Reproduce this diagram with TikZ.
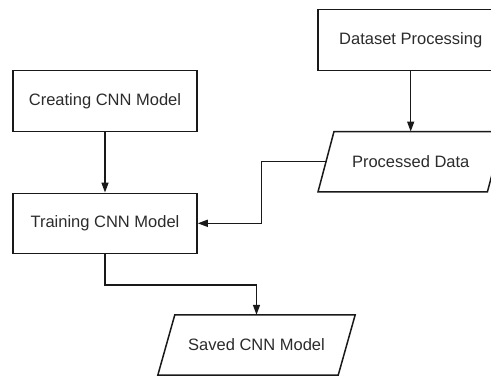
\documentclass[tikz,border=0pt]{standalone}
\usepackage{fontspec}
\setmainfont{Liberation Sans}
\usetikzlibrary{arrows.meta}
\definecolor{txt}{HTML}{2B2B2B}
\begin{document}
\begin{tikzpicture}[x=1pt,y=-1pt,
  lbl/.style={inner sep=0pt,font=\fontsize{16.5}{19}\selectfont,text=txt},
  box/.style={lbl,draw=black!90,line width=1.5pt,minimum width=184pt,minimum height=61pt},
  para/.style={lbl,minimum height=60pt},
  outline/.style={draw=black!90,line width=1.5pt,line join=miter},
  conn/.style={draw=black!90,line width=1.5pt,-{Triangle[length=10pt,width=7pt]}}]
\useasboundingbox (0,0) rectangle (491,376);
\node[box] (cr) at (105,101) {Creating CNN Model};
\node[box,minimum height=60pt] (tr) at (105,223.3) {Training CNN Model};
\node[box,minimum width=185pt] (ds) at (410.7,40.2) {Dataset Processing};
\node[para,minimum width=169pt] (pd) at (410.7,161.7) {Processed Data};
\draw[outline] ([xshift=8pt]pd.north west) -- ([xshift=8pt]pd.north east)
  -- ([xshift=-8pt]pd.south east) -- ([xshift=-8pt]pd.south west) -- cycle;
\node[para,minimum width=180pt] (sv) at (256.5,345) {Saved CNN Model};
\draw[outline] ([xshift=8.5pt]sv.north west) -- ([xshift=8.5pt]sv.north east)
  -- ([xshift=-8.5pt]sv.south east) -- ([xshift=-8.5pt]sv.south west) -- cycle;
\draw[conn] (cr.south) -- (tr.north);
\draw[conn] (ds.south) -- (pd.north);
\coordinate (j1) at (261.7,161.7);
\draw[conn] (pd.west) -- (j1) |- (tr.east);
\coordinate (j2) at (105,285);
\draw[conn] (tr.south) -- (j2) -| (sv.north);
\end{tikzpicture}
\end{document}
